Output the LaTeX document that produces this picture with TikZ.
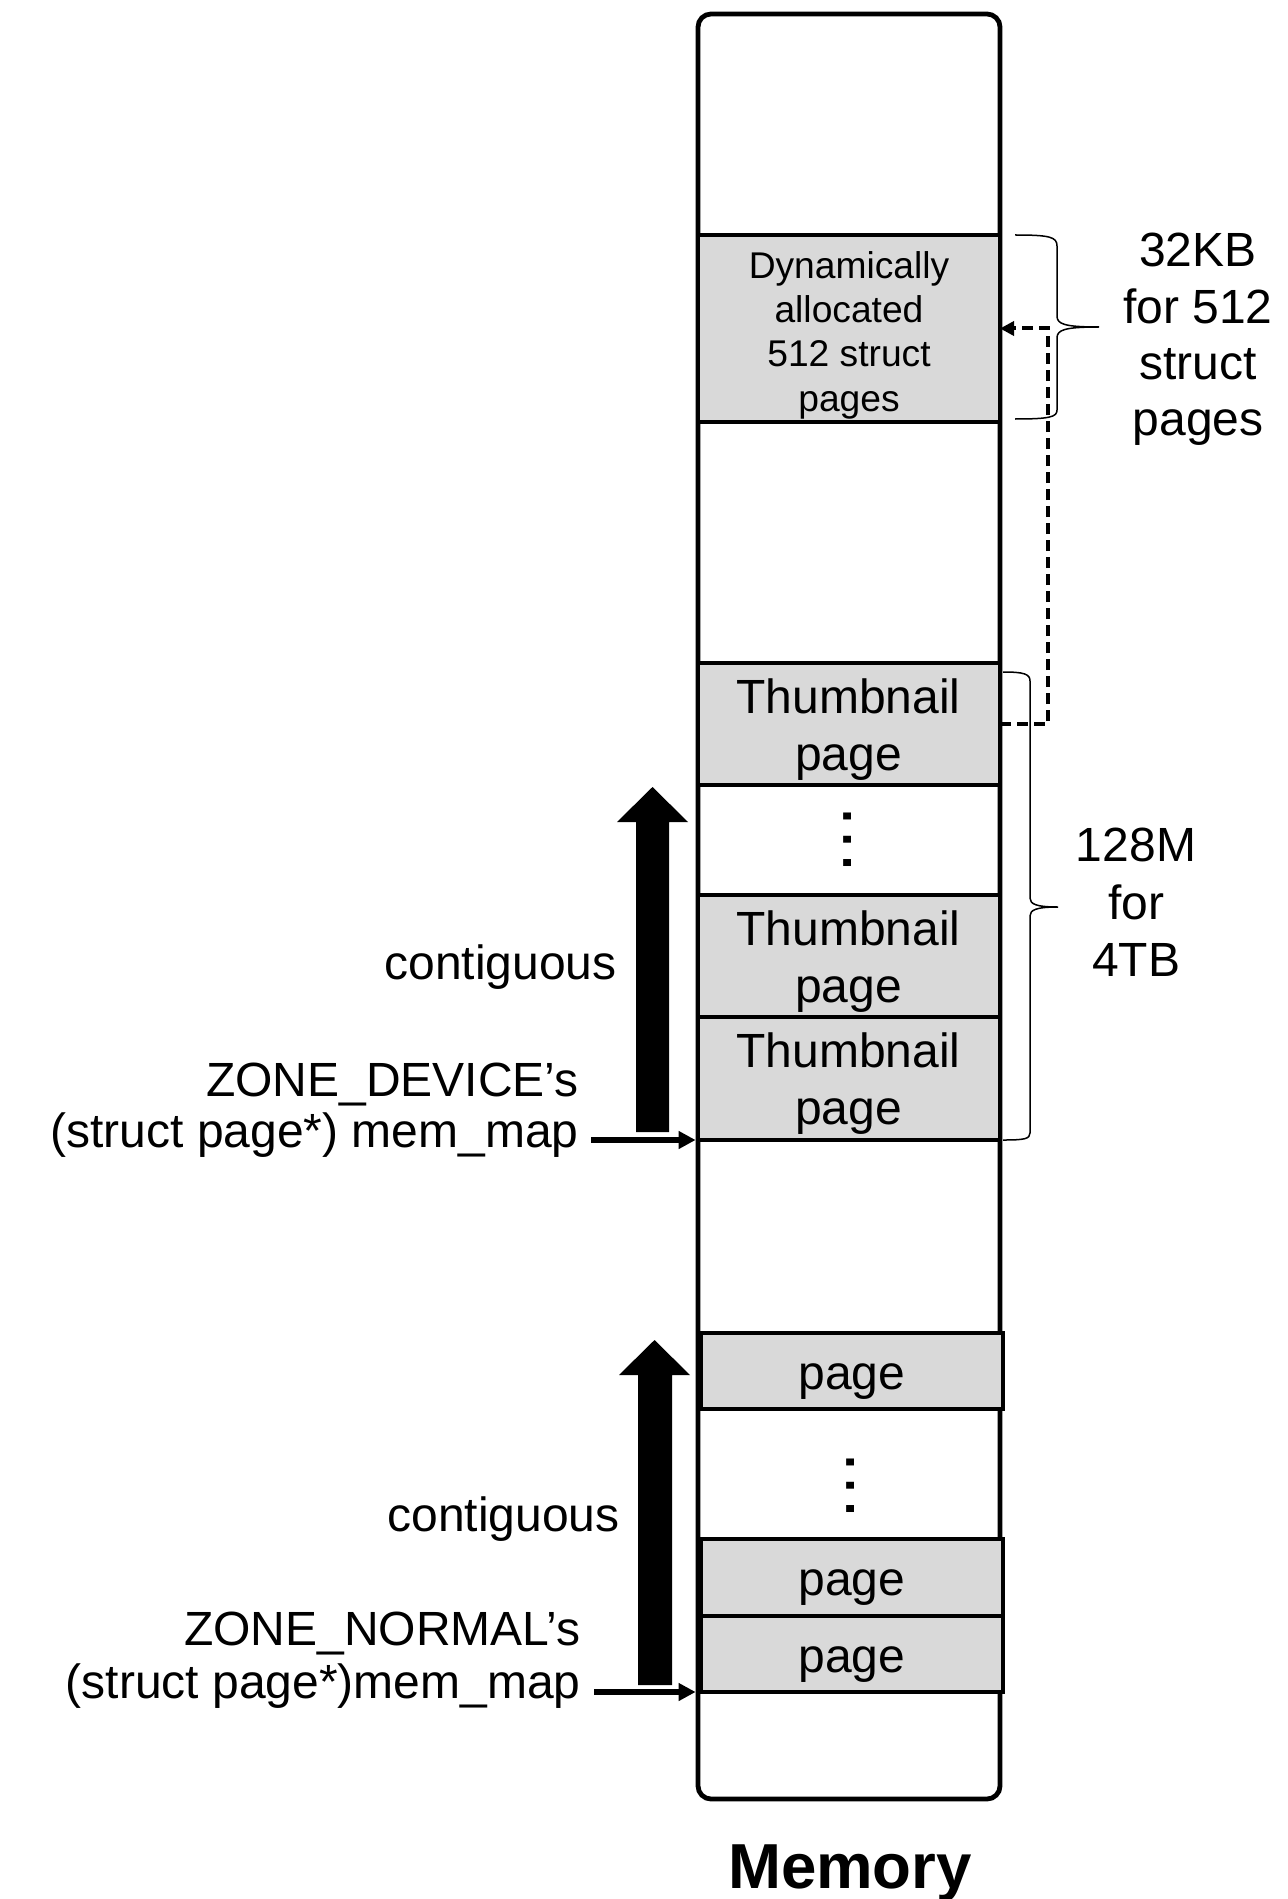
\documentclass[tikz,border=0pt]{standalone}
\usepackage{fontspec}
\setmainfont{Liberation Sans}
\usetikzlibrary{arrows.meta,calc}
\definecolor{blockgray}{HTML}{D9D9D9}
\begin{document}
\begin{tikzpicture}[x=0.5pt,y=-0.5pt,
  lbl/.style={font=\fontsize{24pt}{28.5pt}\selectfont, inner sep=0pt},
  blk/.style={draw, line width=2.3pt, fill=blockgray, minimum width=151pt, inner sep=0pt, outer sep=0pt},
  dotsnode/.style={rotate=90, inner sep=0pt, font=\fontsize{36.75pt}{36.75pt}\selectfont},
  thinarrow/.style={line width=3pt, -{Triangle[length=8.5pt,width=8.5pt]}},
  dasharrow/.style={line width=2pt, dash pattern=on 5.5pt off 3pt, -{Triangle[length=7pt,width=7pt]}},
  bracepath/.style={line width=0.75pt},
  blockarrow/.style={fill=black}]
\useasboundingbox (0,0) rectangle (1287,1899);

% memory column
\node[draw, line width=2.4pt, rounded corners=6.5pt, minimum width=151pt, minimum height=892.5pt, inner sep=0pt, fill=white] (mem) at (849,906.5) {};

% blocks
\node[blk, minimum height=93.5pt] (dyn) at (849,328.5) {};
\node[blk, minimum height=61pt] (t1) at (849,724) {};
\node[blk, minimum height=61pt] (t2) at (849,956) {};
\node[blk, minimum height=61.5pt] (t3) at (849,1078.5) {};
\node[blk, minimum height=38pt] (p1) at (852,1371) {};
\node[blk, minimum height=38.5pt] (p2) at (852,1577.5) {};
\node[blk, minimum height=38pt] (p3) at (852,1654) {};

% block texts
\node[lbl, align=center, font=\fontsize{18.6pt}{22.2pt}\selectfont] (dyntxt) at (849,335) {Dynamically\\allocated\\512 struct\\pages};
\node[lbl, align=center] (t1txt) at (848.5,729.5) {Thumbnail\\page};
\node[lbl, align=center] (t2txt) at (848.5,961.5) {Thumbnail\\page};
\node[lbl, align=center] (t3txt) at (848.5,1083.5) {Thumbnail\\page};
\node[lbl, anchor=base] (p1txt) at (852,1389) {page};
\node[lbl, anchor=base] (p2txt) at (852,1595) {page};
\node[lbl, anchor=base] (p3txt) at (852,1672.5) {page};

% vertical dots
\node[dotsnode] (dots1) at (847.5,839.5) {…};
\node[dotsnode] (dots2) at (850.5,1485.5) {…};

% right labels
\node[lbl, align=center, font=\fontsize{24pt}{28.2pt}\selectfont] (kb) at (1198,339.5) {32KB\\for 512\\struct\\pages};
\node[lbl, align=center, font=\fontsize{24pt}{28.75pt}\selectfont] (tb) at (1136,902.5) {128M\\for\\4TB};

% braces
\draw[bracepath] (1015,235) .. controls (1050,235) and (1057,237) .. (1057,246) -- (1057,316) .. controls (1057,324) and (1064,327) .. (1099,327) .. controls (1064,327) and (1057,330) .. (1057,338) -- (1057,410) .. controls (1057,417) and (1050,419) .. (1015,419);
\draw[bracepath] (1003,672) .. controls (1024,672) and (1030,674) .. (1030,681) -- (1030,898) .. controls (1030,904) and (1036,907) .. (1058,907) .. controls (1036,907) and (1030,910) .. (1030,916) -- (1030,1133) .. controls (1030,1139) and (1024,1140) .. (1003,1140);

% dashed pointer
\draw[dasharrow] (t1.east) -- ++(48,0) |- (dyn.east);

% left labels
\node[lbl, anchor=base east] (cont1) at (617,979) {contiguous};
\node[lbl, anchor=base east] (zdev) at (579,1096) {ZONE\_DEVICE’s};
\node[lbl, anchor=base east] (sdev) at (579,1147) {(struct page*) mem\_map};
\node[lbl, anchor=base east] (cont2) at (620,1531) {contiguous};
\node[lbl, anchor=base east] (znorm) at (581,1645) {ZONE\_NORMAL’s};
\node[lbl, anchor=base east] (snorm) at (581,1698) {(struct page*)mem\_map};

% thin arrows
\coordinate (a1) at (591,1140);
\coordinate (a2) at (594,1692);
\draw[thinarrow] (a1) -- (mem.west |- t3.south);
\draw[thinarrow] (a2) -- (mem.west |- p3.south);

% block arrows
\fill[blockarrow] (636,1132) -- (636,822) -- (617,822) -- (652.5,787) -- (688,822) -- (669,822) -- (669,1132) -- cycle;
\fill[blockarrow] (638,1685) -- (638,1375) -- (619,1375) -- (654.5,1340) -- (690,1375) -- (672,1375) -- (672,1685) -- cycle;

% title
\node[inner sep=0pt, anchor=base, font=\fontsize{31.8pt}{31.8pt}\selectfont\bfseries] (memlbl) at (850,1888) {Memory};
\end{tikzpicture}
\end{document}
